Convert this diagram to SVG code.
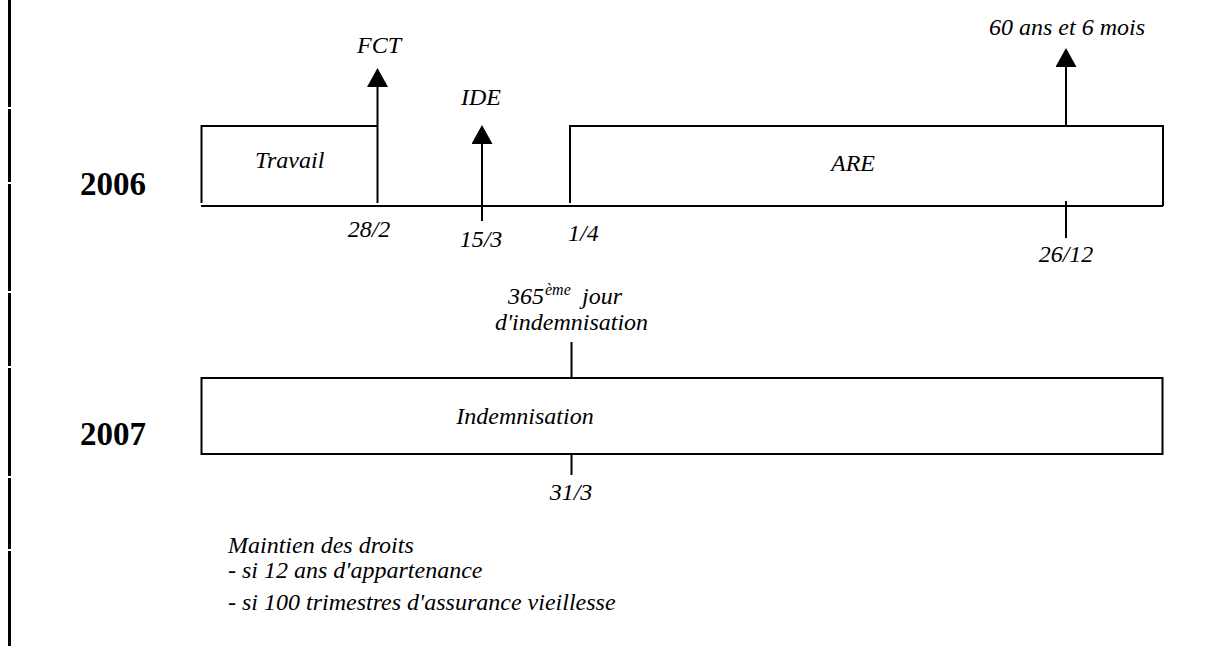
<svg xmlns="http://www.w3.org/2000/svg" width="1215" height="646" viewBox="0 0 1215 646">
  <style>
    .lbl { font-family: "Liberation Serif", "Times New Roman", serif; font-style: italic; font-size: 24px; fill: #000; }
    .sup { font-size: 16px; }
    .year { font-family: "Liberation Serif", "Times New Roman", serif; font-weight: bold; font-size: 33px; fill: #000; }
    .ln { stroke: #000; stroke-width: 2; fill: none; }
    .frame { stroke: #000; stroke-width: 3; fill: none; }
  </style>
  <defs>
    <!-- solid triangular head, base sits on the shaft end -->
    <marker id="head" viewBox="0 0 19 21" refX="0" refY="10.5" markerWidth="19" markerHeight="21" markerUnits="userSpaceOnUse" orient="auto">
      <path d="M0,0 L19,10.5 L0,21 Z" fill="#000"/>
    </marker>
  </defs>
  <rect width="1215" height="646" fill="#fff"/>

  <!-- page margin rule -->
  <g id="margin">
    <line class="frame" x1="9.5" y1="0" x2="9.5" y2="107"/>
    <line class="frame" x1="9.5" y1="109" x2="9.5" y2="182"/>
    <line class="frame" x1="9.5" y1="184" x2="9.5" y2="291"/>
    <line class="frame" x1="9.5" y1="293" x2="9.5" y2="366"/>
    <line class="frame" x1="9.5" y1="368" x2="9.5" y2="476"/>
    <line class="frame" x1="9.5" y1="478" x2="9.5" y2="549"/>
    <line class="frame" x1="9.5" y1="551" x2="9.5" y2="646"/>
  </g>

  <!-- 2006 timeline -->
  <g id="year-2006"><text class="year" x="80" y="195">2006</text></g>

  <g id="travail">
    <path class="ln" d="M201.5,203 V126 H377"/>
    <text class="lbl" x="255" y="168">Travail</text>
  </g>

  <g id="are">
    <path class="ln" d="M570,203 V126 H1163 V206"/>
    <text class="lbl" x="853" y="171" text-anchor="middle">ARE</text>
  </g>

  <g id="baseline-2006">
    <line class="ln" x1="201" y1="206" x2="1163" y2="206"/>
  </g>

  <g id="connectors">
    <!-- FCT -->
    <line class="ln" x1="377.5" y1="203" x2="377.5" y2="87" marker-end="url(#head)"/>
    <!-- IDE -->
    <line class="ln" x1="482" y1="221" x2="482" y2="144" marker-end="url(#head)"/>
    <!-- 60 ans et 6 mois -->
    <line class="ln" x1="1066" y1="126" x2="1066" y2="67" marker-end="url(#head)"/>
    <!-- 26/12 tick -->
    <line class="ln" x1="1066" y1="201" x2="1066" y2="238"/>
    <!-- 365e jour ticks -->
    <line class="ln" x1="571.5" y1="342" x2="571.5" y2="378"/>
    <line class="ln" x1="571.5" y1="454" x2="571.5" y2="475"/>
  </g>

  <g id="fct"><text class="lbl" x="379" y="53" text-anchor="middle">FCT</text></g>
  <g id="ide"><text class="lbl" x="481" y="105" text-anchor="middle">IDE</text></g>
  <g id="age"><text class="lbl" x="1067" y="35" text-anchor="middle">60 ans et 6 mois</text></g>
  <g id="d-28-2"><text class="lbl" x="369" y="237" text-anchor="middle">28/2</text></g>
  <g id="d-15-3"><text class="lbl" x="481" y="247" text-anchor="middle">15/3</text></g>
  <g id="d-1-4"><text class="lbl" x="568" y="241">1/4</text></g>
  <g id="d-26-12"><text class="lbl" x="1066" y="262" text-anchor="middle">26/12</text></g>

  <!-- 2007 timeline -->
  <g id="year-2007"><text class="year" x="80" y="445">2007</text></g>

  <g id="jour-365">
    <text class="lbl" x="508" y="304">365<tspan class="sup" x="545" dy="-9">ème</tspan><tspan x="582" dy="9">jour</tspan></text>
    <text class="lbl" x="571.5" y="330" text-anchor="middle">d'indemnisation</text>
  </g>

  <g id="indemnisation">
    <rect class="ln" x="201.5" y="378" width="961" height="76"/>
    <text class="lbl" x="525" y="424" text-anchor="middle">Indemnisation</text>
  </g>

  <g id="d-31-3"><text class="lbl" x="571" y="500" text-anchor="middle">31/3</text></g>

  <g id="maintien">
    <text class="lbl" x="228" y="553">Maintien des droits</text>
    <text class="lbl" x="228" y="578">- si 12 ans d'appartenance</text>
    <text class="lbl" x="228" y="610">- si 100 trimestres d'assurance vieillesse</text>
  </g>
</svg>
